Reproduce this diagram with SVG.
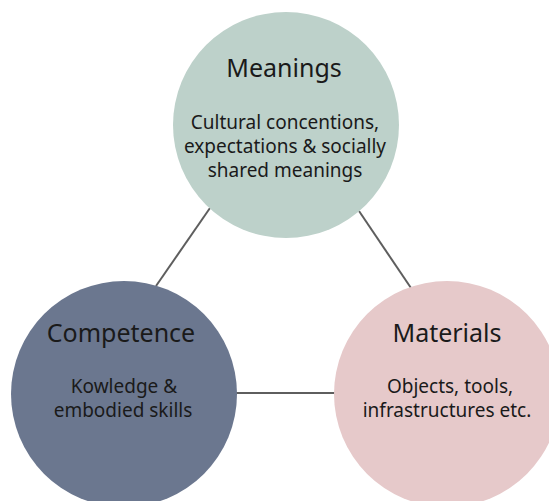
<svg xmlns="http://www.w3.org/2000/svg" width="549" height="501" viewBox="0 0 549 501">
<style>
.title{font-family:"Noto Sans","Open Sans",sans-serif;font-size:25px;fill:#1a1a1a;text-anchor:middle}
.body{font-family:"Noto Sans","Open Sans",sans-serif;font-size:19px;fill:#1a1a1a;text-anchor:middle}
.conn{stroke:#5e5e5e;stroke-width:2;fill:none}
</style>
<rect width="549" height="501" fill="#ffffff"/>
<g id="connectors">
<line class="conn" x1="210" y1="208" x2="156" y2="286"/>
<line class="conn" x1="359" y1="211" x2="411" y2="288"/>
<line class="conn" x1="236" y1="393" x2="335" y2="393"/>
</g>
<g id="meanings">
<circle cx="286" cy="125" r="113" fill="#bdd1ca"/>
<text class="title" x="284" y="77">Meanings</text>
<text class="body" x="285" y="129">Cultural concentions,</text>
<text class="body" x="285" y="153">expectations &amp; socially</text>
<text class="body" x="285" y="177">shared meanings</text>
</g>
<g id="competence">
<circle cx="124" cy="394" r="113" fill="#6b778f"/>
<text class="title" x="121" y="342">Competence</text>
<text class="body" x="124" y="393">Kowledge &amp;</text>
<text class="body" x="123" y="417">embodied skills</text>
</g>
<g id="materials">
<circle cx="447" cy="394" r="113" fill="#e6c9ca"/>
<text class="title" x="447" y="342">Materials</text>
<text class="body" x="450" y="393">Objects, tools,</text>
<text class="body" x="447" y="417">infrastructures etc.</text>
</g>
</svg>
